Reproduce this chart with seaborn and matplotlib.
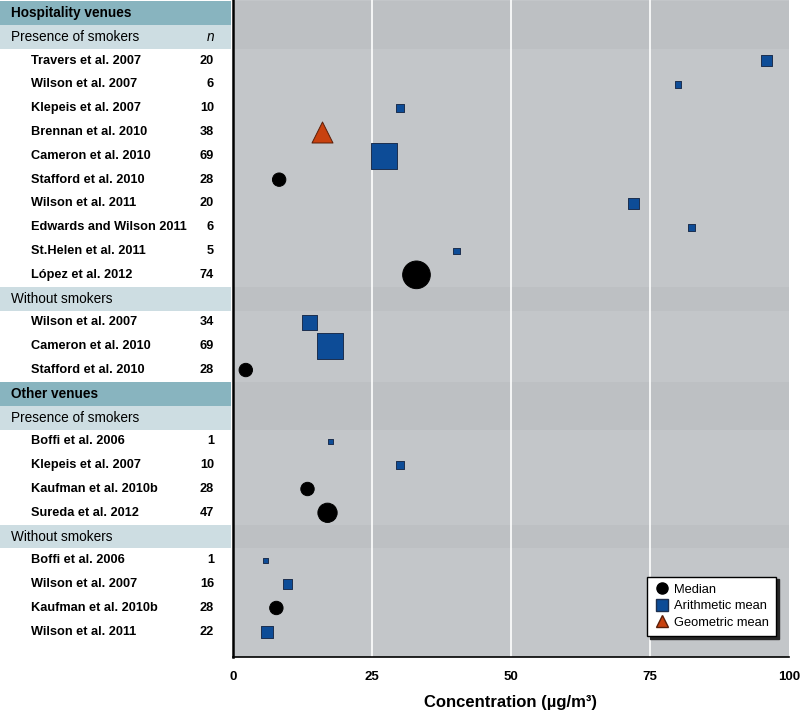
import numpy as np
import pandas as pd
import matplotlib
matplotlib.use('Agg')
import matplotlib.pyplot as plt
from matplotlib.lines import Line2D
import seaborn as sns

# rows of the table, top to bottom
row_labels = ['Hospitality venues', 'Presence of smokers',
              'Travers et al. 2007', 'Wilson et al. 2007', 'Klepeis et al. 2007',
              'Brennan et al. 2010', 'Cameron et al. 2010', 'Stafford et al. 2010',
              'Wilson et al. 2011', 'Edwards and Wilson 2011', 'St.Helen et al. 2011',
              'López et al. 2012',
              'Without smokers',
              'Wilson et al. 2007', 'Cameron et al. 2010', 'Stafford et al. 2010',
              'Other venues', 'Presence of smokers',
              'Boffi et al. 2006', 'Klepeis et al. 2007', 'Kaufman et al. 2010b',
              'Sureda et al. 2012',
              'Without smokers',
              'Boffi et al. 2006', 'Wilson et al. 2007', 'Kaufman et al. 2010b',
              'Wilson et al. 2011']
row_kinds = ['group', 'sub'] + ['study'] * 10 + ['sub'] + ['study'] * 3 + \
            ['group', 'sub'] + ['study'] * 4 + ['sub'] + ['study'] * 4
n_values = [None, None, 20, 6, 10, 38, 69, 28, 20, 6, 5, 74,
            None, 34, 69, 28,
            None, None, 1, 10, 28, 47,
            None, 1, 16, 28, 22]
conc = [None, None, 96.0, 80.0, 30.0, 16.0, 27.2, 8.3, 72.0, 82.5, 40.2, 33.0,
        None, 13.8, 17.5, 2.3,
        None, None, 17.5, 30.0, 13.4, 17.0,
        None, 5.8, 9.8, 7.8, 6.1]
stat = [None, None, 'Arithmetic mean', 'Arithmetic mean', 'Arithmetic mean',
        'Geometric mean', 'Arithmetic mean', 'Median', 'Arithmetic mean',
        'Arithmetic mean', 'Arithmetic mean', 'Median',
        None, 'Arithmetic mean', 'Arithmetic mean', 'Median',
        None, None, 'Arithmetic mean', 'Arithmetic mean', 'Median', 'Median',
        None, 'Arithmetic mean', 'Arithmetic mean', 'Median', 'Arithmetic mean']
x_ticks = [0, 25, 50, 75, 100]

stat_order = ['Median', 'Arithmetic mean', 'Geometric mean']
stat_marker = {'Median': 'o', 'Arithmetic mean': 's', 'Geometric mean': '^'}
stat_color = {'Median': 'black', 'Arithmetic mean': '#0d4c97', 'Geometric mean': '#c8410f'}
stat_edge = {'Median': 'black', 'Arithmetic mean': '#1c2f4f', 'Geometric mean': '#5a1e08'}

df = pd.DataFrame({'label': row_labels, 'kind': row_kinds, 'n': n_values,
                   'conc': conc, 'stat': stat})
df['row'] = np.arange(len(df))
studies = df[df['kind'] == 'study'].copy()
studies['n'] = studies['n'].astype(int)
studies['conc'] = studies['conc'].astype(float)


# marker side grows with n (pixels -> points^2)
def marker_area(n):
    side_px = 4.7 + 0.31 * n
    return (side_px * 0.72) ** 2


size_map = {n: marker_area(n) for n in studies['n'].unique()}
size_map[38] = (21 * 0.72) ** 2  # triangle drawn a bit larger

sns.set_style('white')
plt.rcParams['font.family'] = ['Liberation Sans', 'DejaVu Sans']
plt.rcParams['text.color'] = 'black'
plt.rcParams['axes.labelcolor'] = 'black'
plt.rcParams['xtick.color'] = 'black'

W, H = 800, 719
fig = plt.figure(figsize=(W / 100, H / 100), dpi=100)
bottom = (H - 657) / H
ax = fig.add_axes([233 / W, bottom, 556 / W, 657 / H])
ax_tab = fig.add_axes([0, bottom, 231 / W, 657 / H])

ylim = (27.06, -0.55)
plot_bg = '#c3c6c9'
band_bg = '#bdc0c3'
group_bg = '#88b4bf'
sub_bg = '#cddde2'
fs = 9.2

# plot panel
ax.set_facecolor(plot_bg)
for i, kind in enumerate(row_kinds):
    if kind != 'study':
        ax.axhspan(i - 0.5, i + 0.5, color=band_bg, lw=0, zorder=0)

for name in stat_order:
    sub = studies[studies['stat'] == name]
    sns.scatterplot(data=sub, x='conc', y='row', size='n', sizes=size_map,
                    marker=stat_marker[name], color=stat_color[name],
                    edgecolor=stat_edge[name], linewidth=0.7,
                    legend=False, ax=ax, zorder=3)

ax.set_xlim(0, 100)
ax.set_ylim(*ylim)
ax.set_xticks(x_ticks)
ax.set_xticklabels([str(t) for t in x_ticks], fontsize=9.5, fontweight='bold')
ax.set_yticks([])
ax.set_ylabel('')
ax.set_xlabel('Concentration (µg/m³)', fontsize=12, fontweight='bold', labelpad=9)
for t in x_ticks[1:-1]:
    ax.axvline(t, color='white', lw=1.2, zorder=1)
for side in ['top', 'right']:
    ax.spines[side].set_visible(False)
ax.spines['left'].set_linewidth(1.8)
ax.spines['left'].set_color('black')
ax.spines['bottom'].set_linewidth(1.2)
ax.spines['bottom'].set_color('black')
ax.tick_params(axis='x', direction='out', length=5, width=1, color='black', pad=5)

handles = [Line2D([], [], marker=stat_marker[s], color='none',
                  markerfacecolor=stat_color[s], markeredgecolor=stat_edge[s],
                  markersize=8, label=s) for s in stat_order]
leg = ax.legend(handles=handles, loc='lower right', bbox_to_anchor=(0.988, 0.022),
                frameon=True, fancybox=False, edgecolor='black', framealpha=1,
                fontsize=9.3, handletextpad=0.35, borderpad=0.55, labelspacing=0.35,
                handlelength=1.2, shadow={'color': '0.15', 'alpha': 1})
leg.get_frame().set_linewidth(1.0)

# table panel
ax_tab.set_xlim(0, 1)
ax_tab.set_ylim(*ylim)
ax_tab.axis('off')
for i, (label, kind, n) in enumerate(zip(row_labels, row_kinds, n_values)):
    if kind == 'group':
        ax_tab.axhspan(i - 0.5, i + 0.5, color=group_bg, lw=0)
        ax_tab.text(11 / 231, i, label, fontsize=fs + 0.6, fontweight='bold', va='center')
    elif kind == 'sub':
        ax_tab.axhspan(i - 0.5, i + 0.5, color=sub_bg, lw=0)
        ax_tab.text(11 / 231, i, label, fontsize=fs + 0.6, va='center')
        if i == 1:
            ax_tab.text(214 / 231, i, 'n', fontsize=fs + 0.6, style='italic',
                        ha='right', va='center')
    else:
        ax_tab.text(31 / 231, i, label, fontsize=fs, fontweight='bold', va='center')
        ax_tab.text(214 / 231, i, str(n), fontsize=fs, fontweight='bold',
                    ha='right', va='center')

fig.savefig('out.png', dpi=100)
